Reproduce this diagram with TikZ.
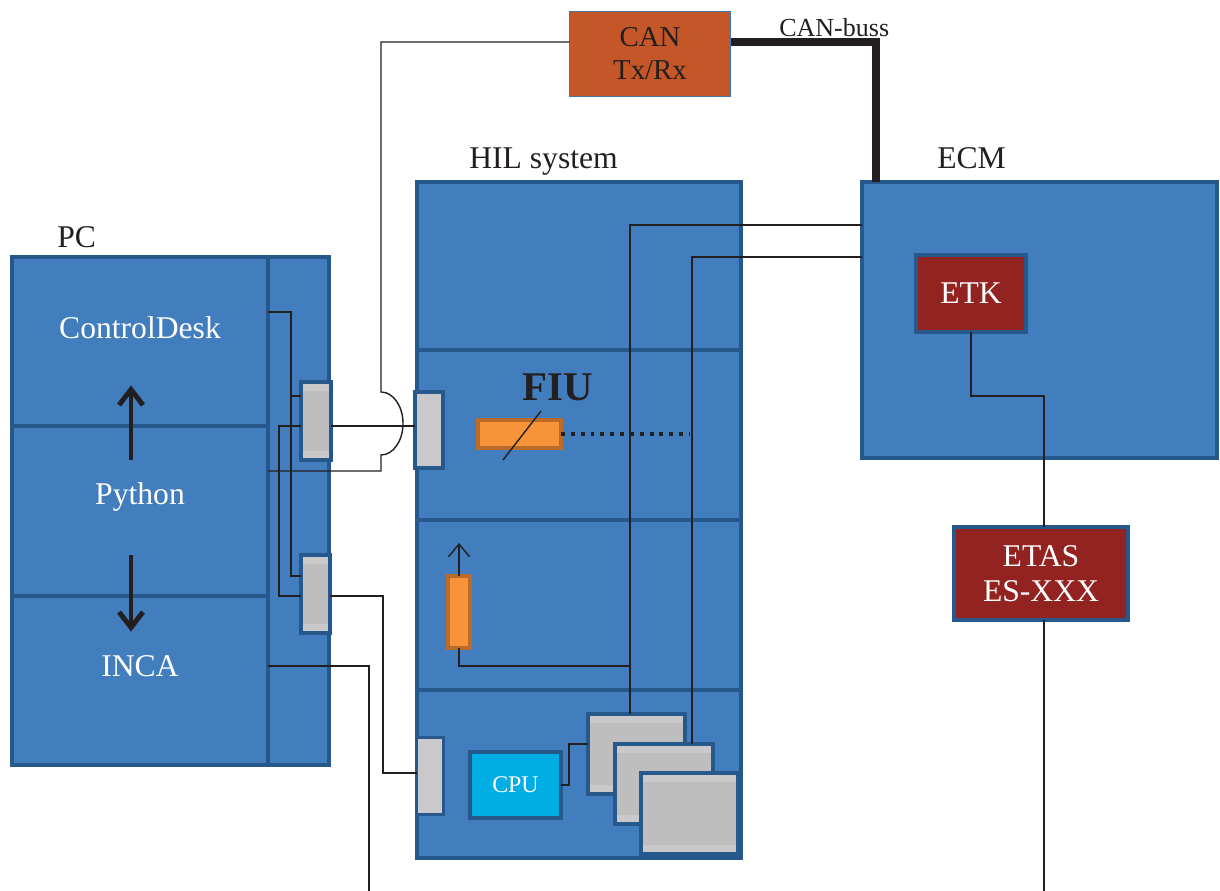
\documentclass[tikz,border=0pt]{standalone}
\usepackage{fontspec}
\setmainfont{Liberation Serif}
\usetikzlibrary{arrows.meta,positioning,calc}
\definecolor{boxblue}  {RGB}{66,126,189}
\definecolor{edgeblue} {RGB}{38,88,140}
\definecolor{etkred}   {RGB}{146,35,32}
\definecolor{cpucyan}  {RGB}{0,173,229}
\definecolor{fiuorange}{RGB}{247,148,58}
\definecolor{fiuedge}  {RGB}{188,106,42}
\definecolor{canbrown} {RGB}{196,86,40}
\definecolor{canedge}  {RGB}{63,120,180}
\definecolor{portlight}{RGB}{201,201,203}
\definecolor{portdark} {RGB}{190,190,190}
\definecolor{ink}      {RGB}{35,31,32}
\newcommand\pxu{0.025cm}
\tikzset{
  sz/.style 2 args={minimum width=#1*\pxu,minimum height=#2*\pxu},
  box/.style={draw=edgeblue,fill=boxblue,line width=2.8pt,inner sep=0pt,outer sep=0pt},
  port/.style={box,fill=portlight},
  slot/.style={box,fill=portlight,path picture={\fill[portdark]
      ([yshift=-6.5pt]path picture bounding box.north west) rectangle
      ([yshift=6.5pt]path picture bounding box.south east);}},
  fiubox/.style={box,draw=fiuedge,fill=fiuorange},
  redbox/.style={box,fill=etkred},
  txt/.style={text=white,font=\fontsize{22.5}{25}\selectfont,align=center},
  lbl/.style={text=ink,font=\fontsize{22.5}{25}\selectfont,inner sep=0pt},
  wire/.style={draw=ink,line width=1pt},
  bus/.style={draw=ink,line width=5.5pt},
  dots/.style={draw=ink,line width=2.8pt,dash pattern=on 2.8pt off 4.2pt},
  flow/.style={draw=ink,line width=3.5pt,-{Straight Barb[length=11pt,width=17pt]}}
}
\begin{document}
\begin{tikzpicture}[x=\pxu,y=-\pxu]
  \useasboundingbox (0,0) rectangle (1220,891);
  % PC
  \node[box,sz={317}{508}] (pc) at (170.5,511) {};
  \node[box,sz={256}{169},anchor=north west] (cd) at (pc.north west) {};
  \node[box,sz={256}{170},below=0pt of cd] (py) {};
  \node[box,sz={256}{169},below=0pt of py] (inca) {};
  \node[txt] (cdtxt) at ([yshift=14*\pxu]cd.center) {ControlDesk};
  \node[txt] (pytxt) at ([yshift=14*\pxu]py.center) {Python};
  \node[txt] (incatxt) at ([yshift=14*\pxu]inca.center) {INCA};
  \node[lbl,anchor=base west] (pclbl) at ([xshift=45*\pxu,yshift=9*\pxu]pc.north west) {PC};
  \node[slot,sz={30}{78}] (pcup) at (316,421) {};
  \node[slot,sz={29}{78}] (pclo) at (315.5,594) {};
  \draw[flow] ($(pytxt)+(-9,-37)$) -- ($(cdtxt)+(-9,58)$);
  \draw[flow] ($(pytxt)+(-9,58)$) -- ($(incatxt)+(-9,-35)$);
  % HIL system
  \node[box,sz={324}{676}] (hil) at (579,520) {};
  \node[box,sz={324}{168},anchor=north] (hil1) at (hil.north) {};
  \node[box,sz={324}{170},below=0pt of hil1] (hil2) {};
  \node[box,sz={324}{170},below=0pt of hil2] (hil3) {};
  \node[box,sz={324}{168},below=0pt of hil3] (hil4) {};
  \node[lbl,anchor=base west] (hillbl) at ([xshift=52*\pxu,yshift=13*\pxu]hil.north west) {HIL system};
  \node[port,sz={28}{76}] (hilp1) at (429,430) {};
  \node[port,sz={27}{77}] (hilp2) at (430,776) {};
  \node[fiubox,sz={83}{28}] (fiu) at (519.5,434) {};
  \node[lbl,font=\fontsize{29}{32}\selectfont\bfseries] (fiulbl) at (558,387) {FIU};
  \node[fiubox,sz={22}{72}] (relay) at (459,612) {};
  \node[box,fill=cpucyan,sz={91}{66}] (cpu) at (515.5,785) {};
  \node[txt,font=\fontsize{17}{20}\selectfont] at (cpu) {CPU};
  \coordinate (fiuend) at (690,434);
  \coordinate (tap) at (630,666);
  % ECM, CAN, ETAS
  \node[box,sz={355}{276}] (ecm) at (1039.5,320) {};
  \node[lbl,anchor=base west] (ecmlbl) at ([xshift=75*\pxu,yshift=13*\pxu]ecm.north west) {ECM};
  \node[redbox,sz={110}{77}] (etk) at (971,293.5) {};
  \node[txt] at (etk) {ETK};
  \node[box,draw=canedge,fill=canbrown,line width=1pt,sz={161}{85},text=ink,
        font=\fontsize{20.5}{23.5}\selectfont,align=center] (can) at (650,54) {CAN\\Tx/Rx};
  \node[lbl,font=\fontsize{18.5}{21}\selectfont,anchor=base west] (buslbl) at (779,37) {CAN-buss};
  \coordinate (incaout) at (369,891);
  \coordinate (etasout) at (1044,891);
  % wires
  \draw[wire] ([yshift=29.5*\pxu]cd.east) -| (291,576) -- ([yshift=18*\pxu]pclo.west);
  \draw[wire] (291,396) -- ([yshift=25*\pxu]pcup.west);
  \draw[wire] ([yshift=-5*\pxu]pcup.west) -| (279,596) -- ([yshift=-2*\pxu]pclo.west);
  \draw[wire] ([yshift=-5*\pxu]pcup.east) -- ([yshift=-5*\pxu]pcup.east -| hilp1.west);
  \draw[wire] ([yshift=40*\pxu]py.east) -| (381,455)
    arc[start angle=-90,end angle=90,x radius=22*\pxu,y radius=31.5*\pxu]
    |- ([yshift=12*\pxu]can.west);
  \draw[wire] ([yshift=-2*\pxu]pclo.east) -- ++(53,0) |- ([yshift=3*\pxu]hilp2.west);
  \draw[wire] ([yshift=14.5*\pxu]inca.east) -| (incaout);
  \draw[bus] ([yshift=12*\pxu]can.east) -| ([xshift=-163.5*\pxu]ecm.north);
  \draw[wire] (fiu.center) ++(-16.5,26) -- ++(38,-49);
  \draw[dots] (fiu.east) -- (fiuend);
  \draw[wire,-{Straight Barb[length=9pt,width=15pt]}] (relay.north) -- ++(0,-33);
  \draw[wire] (relay.south) |- (tap);
  % cards
  \node[slot,sz={97}{80}] (card1) at (636.5,754) {};
  \node[slot,sz={98}{80}] (card2) at (664,784) {};
  \node[slot,sz={97}{81}] (card3) at (689.5,813.5) {};
  \draw[wire] (cpu.east) -- ++(8,0) |- ([yshift=10*\pxu]card1.west);
  \draw[wire] ([xshift=-6.5*\pxu]card1.north) |- ([yshift=95*\pxu]ecm.west);
  \draw[wire] ([xshift=28*\pxu]card2.north) |- ([yshift=63*\pxu]ecm.west);
  % ETAS
  \node[redbox,sz={174}{93}] (etas) at (1041,573.5) {};
  \node[txt] at (etas) {ETAS\\ES-XXX};
  \draw[wire] (etk.south) -- ++(0,64) -| ([xshift=3*\pxu]etas.north);
  \draw[wire] ([xshift=3*\pxu]etas.south) -- (etasout);
\end{tikzpicture}
\end{document}
